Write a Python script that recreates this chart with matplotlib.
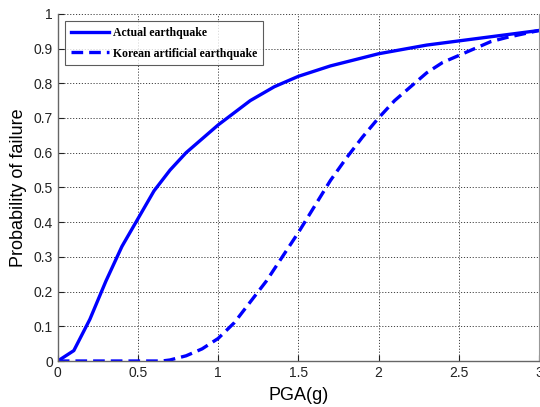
import matplotlib
matplotlib.use("Agg")
import matplotlib.pyplot as plt

# PGA (g) and probability of failure
pga_actual = [0.0, 0.1, 0.2, 0.3, 0.4, 0.5, 0.6, 0.7, 0.8, 0.9, 1.0, 1.1, 1.2, 1.35,
              1.5, 1.7, 2.0, 2.3, 2.5, 2.8, 3.0]
pf_actual = [0.0, 0.03, 0.12, 0.23, 0.33, 0.41, 0.49, 0.55, 0.60, 0.64, 0.68, 0.715,
             0.75, 0.79, 0.82, 0.85, 0.885, 0.91, 0.922, 0.94, 0.952]

pga_korean = [0.0, 0.5, 0.65, 0.7, 0.8, 0.9, 1.0, 1.1, 1.2, 1.3, 1.4, 1.5, 1.6, 1.7,
              1.8, 1.9, 2.0, 2.1, 2.2, 2.3, 2.4, 2.5, 2.6, 2.7, 2.8, 2.9, 3.0]
pf_korean = [0.0, 0.0, 0.0, 0.003, 0.015, 0.035, 0.065, 0.11, 0.17, 0.23, 0.30, 0.37,
             0.445, 0.52, 0.585, 0.645, 0.70, 0.75, 0.79, 0.83, 0.86, 0.88, 0.90,
             0.92, 0.932, 0.942, 0.952]

xticks = [0, 0.5, 1, 1.5, 2, 2.5, 3]
xtick_labels = ["0", "0.5", "1", "1.5", "2", "2.5", "3"]
yticks = [0, 0.1, 0.2, 0.3, 0.4, 0.5, 0.6, 0.7, 0.8, 0.9, 1]
ytick_labels = ["0", "0.1", "0.2", "0.3", "0.4", "0.5", "0.6", "0.7", "0.8", "0.9", "1"]

plt.rcParams["font.family"] = ["Liberation Sans", "DejaVu Sans"]

fig = plt.figure(figsize=(5.4, 4.07), dpi=100)
ax = fig.add_axes([0.107, 0.113, 0.891, 0.853])

ax.plot(pga_actual, pf_actual, color="#0000ff", lw=2.4, label="Actual earthquake")
ax.plot(pga_korean, pf_korean, color="#0000ff", lw=2.4, dashes=(3.5, 1.8),
        label="Korean artificial earthquake")

ax.set_xlim(0, 3)
ax.set_ylim(0, 1)
ax.set_xticks(xticks)
ax.set_xticklabels(xtick_labels)
ax.set_yticks(yticks)
ax.set_yticklabels(ytick_labels)
ax.tick_params(direction="in", labelsize=10, length=4, colors="#222222")

ax.grid(True, color="#444444", linestyle=(0, (1.2, 1.8)), linewidth=0.7)
for side in ["left", "bottom"]:
    ax.spines[side].set_color("#666666")
    ax.spines[side].set_linewidth(1.0)
ax.spines["top"].set_visible(False)
ax.spines["right"].set_color("#999999")
ax.spines["right"].set_linewidth(0.8)

ax.set_xlabel("PGA(g)", fontsize=13, labelpad=5)
ax.set_ylabel("Probability of failure", fontsize=13, labelpad=5)

leg = ax.legend(loc="upper left", bbox_to_anchor=(0.016, 0.98), borderaxespad=0,
                fancybox=False,
                prop={"family": "Liberation Serif", "weight": "bold", "size": 8.5},
                handlelength=3.2, borderpad=0.5, labelspacing=0.75, handletextpad=0.3)
leg.get_frame().set_edgecolor("#333333")
leg.get_frame().set_linewidth(0.8)

fig.savefig("out.png", dpi=100)
